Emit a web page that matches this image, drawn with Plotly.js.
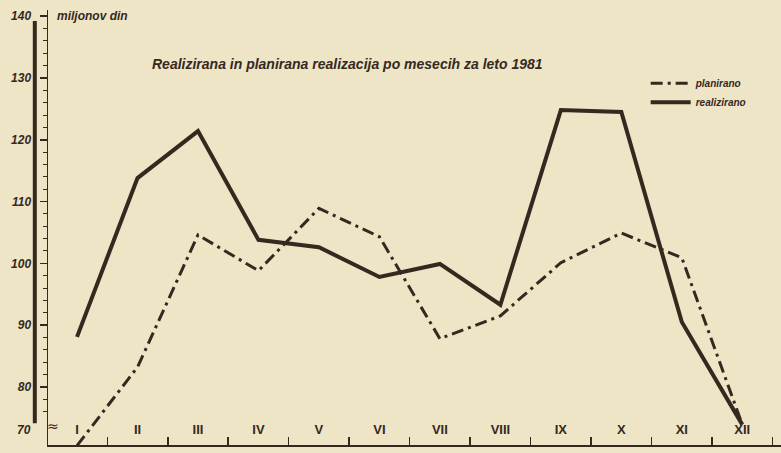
<!DOCTYPE html>
<html>
<head>
<meta charset="utf-8">
<script src="https://cdn.plot.ly/plotly-3.0.1.min.js"></script>
<style>
html,body{margin:0;padding:0;background:#eee4c6;}
#chart{width:781px;height:453px;}
</style>
</head>
<body>
<div id="chart"></div>
<script>
const months = ['I','II','III','IV','V','VI','VII','VIII','IX','X','XI','XII'];
const realizirano = [88.1,113.8,121.4,103.8,102.6,97.8,99.9,93.3,124.8,124.5,90.5,73.9];
const planirano = [70.5,83.2,104.6,98.8,108.9,104.3,87.8,91.5,100.1,104.9,100.9,73.9];
const yTickVals = [80,90,100,110,120,130,140];
const yTickText = ['80','90','100','110','120','130','140'];
const bottomTickVal = 73;
const bottomTickText = '70';
const titleText = 'Realizirana in planirana realizacija po mesecih za leto 1981';
const unitText = 'miljonov din';

const ink = '#35291f';
const fontFam = 'Liberation Sans Narrow, Liberation Sans, Arial, sans-serif';
const labelFont = {family: fontFam, size: 12, color: ink, weight: 'bold', style: 'italic'};

const traces = [
  {x: months, y: planirano, name: 'planirano', type: 'scatter', mode: 'lines',
   line: {color: ink, width: 3, dash: '12px,5px,3px,5px'}},
  {x: months, y: realizirano, name: 'realizirano', type: 'scatter', mode: 'lines',
   line: {color: ink, width: 4}}
];

const layout = {
  width: 781, height: 453,
  paper_bgcolor: '#eee4c6', plot_bgcolor: '#eee4c6',
  margin: {l: 48, r: 0, t: 10, b: 8},
  showlegend: true,
  legend: {x: 0.96, xanchor: 'right', y: 0.865, yanchor: 'top', bgcolor: 'rgba(0,0,0,0)',
    font: {family: fontFam, size: 10, color: ink, weight: 'bold', style: 'italic'},
    tracegroupgap: 0, itemwidth: 40},
  xaxis: {type: 'category', range: [-0.48, 11.64], showgrid: false, zeroline: false,
    showline: true, linecolor: ink, linewidth: 2,
    tickson: 'boundaries', ticks: 'inside', ticklen: 8, tickwidth: 1.5, tickcolor: ink,
    ticklabelposition: 'inside', ticklabelstandoff: 0,
    tickfont: {family: fontFam, size: 13, color: ink, weight: 'bold'}},
  yaxis: {range: [70.6, 141], showgrid: false, zeroline: false,
    showline: true, linecolor: ink, linewidth: 1.5,
    tickmode: 'array', tickvals: yTickVals, ticktext: yTickText,
    ticks: 'outside', ticklen: 7, tickwidth: 1.5, tickcolor: ink, ticklabelstandoff: 6,
    minor: {dtick: 2, ticks: 'outside', ticklen: 4, tickcolor: ink, tickwidth: 1},
    tickfont: labelFont},
  shapes: [
    {type: 'line', xref: 'paper', yref: 'paper', x0: -0.018, x1: -0.018, y0: 0.05, y1: 0.975,
     line: {color: ink, width: 4}}
  ],
  annotations: [
    {text: bottomTickText, xref: 'paper', yref: 'y', x: -0.02, y: bottomTickVal, xanchor: 'right',
     yanchor: 'middle', showarrow: false, font: labelFont},
    {text: titleText, xref: 'paper', yref: 'paper', x: 0.408, y: 0.90, showarrow: false,
     font: {family: fontFam, size: 14, color: ink, weight: 'bold', style: 'italic'}},
    {text: unitText, xref: 'paper', yref: 'paper', x: 0.01, y: 0.986, xanchor: 'left', yanchor: 'middle',
     showarrow: false, font: {family: fontFam, size: 12, color: ink, weight: 'bold', style: 'italic'}},
    {text: '≈', xref: 'paper', yref: 'paper', x: -0.004, y: 0.02, showarrow: false,
     font: {family: 'DejaVu Sans', size: 14, color: ink}}
  ]
};

Plotly.newPlot('chart', traces, layout, {displayModeBar: false, staticPlot: true});
</script>
</body>
</html>
